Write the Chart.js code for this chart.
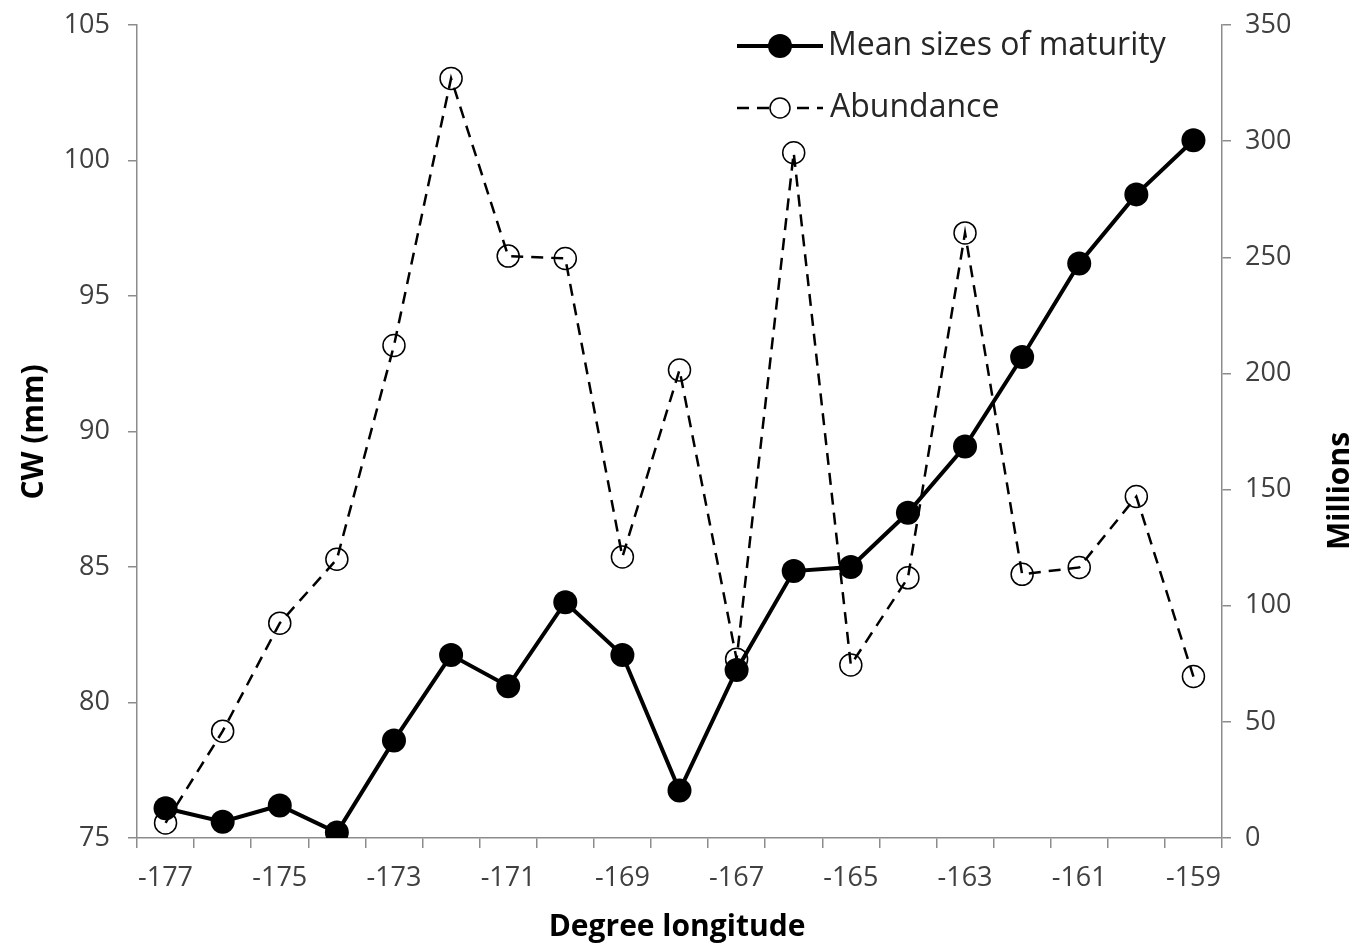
<!DOCTYPE html>
<html>
<head>
<meta charset="utf-8">
<script src="https://cdn.jsdelivr.net/npm/chart.js@4"></script>
<style>
    body { margin: 0; background: #fff; }
</style>
</head>
<body>
<canvas id="myChart" width="1362" height="950"></canvas>
<script>
const longitudes = [-177, -176, -175, -174, -173, -172, -171, -170, -169, -168, -167, -166, -165, -164, -163, -162, -161, -160, -159];
const meanSizes = [76.1, 75.6, 76.2, 75.2, 78.6, 81.75, 80.6, 83.7, 81.75, 76.75, 81.2, 84.85, 85.0, 87.0, 89.45, 92.75, 96.2, 98.75, 100.75];
const abundance = [6.5, 46, 92.5, 120, 212, 327, 250.5, 249.5, 121, 201.5, 77, 295, 74.5, 112, 260.5, 113.5, 116.5, 147, 69.5];

const FONT = "'Open Sans', sans-serif";
const tickColor = "#404040";
const axisColor = "#8c8c8c";

// titles and legend drawn by hand, like the original
const extras = {
    id: 'extras',
    afterDraw(chart) {
        const ctx = chart.ctx;
        ctx.save();
        ctx.fillStyle = "#000";
        ctx.font = "bold 30px " + FONT;
        ctx.textAlign = "center";
        ctx.textBaseline = "middle";
        ctx.fillText("Degree longitude", 677, 927);

        ctx.save();
        ctx.translate(34, 432);
        ctx.rotate(-Math.PI / 2);
        ctx.fillText("CW (mm)", 0, 0);
        ctx.restore();

        ctx.save();
        ctx.translate(1340, 491);
        ctx.rotate(-Math.PI / 2);
        ctx.fillText("Millions", 0, 0);
        ctx.restore();

        // legend
        ctx.font = "32px " + FONT;
        ctx.textAlign = "left";
        ctx.strokeStyle = "#000";
        ctx.lineWidth = 4;
        ctx.beginPath();
        ctx.moveTo(737, 46);
        ctx.lineTo(823, 46);
        ctx.stroke();
        ctx.fillStyle = "#000";
        ctx.beginPath();
        ctx.arc(780, 46, 12, 0, Math.PI * 2);
        ctx.fill();
        ctx.fillStyle = "#262626";
        ctx.fillText("Mean sizes of maturity", 828, 46);

        ctx.lineWidth = 2.5;
        ctx.setLineDash([12, 8]);
        ctx.beginPath();
        ctx.moveTo(737, 108);
        ctx.lineTo(823, 108);
        ctx.stroke();
        ctx.setLineDash([]);
        ctx.fillStyle = "#fff";
        ctx.lineWidth = 1.5;
        ctx.beginPath();
        ctx.arc(780, 108, 10, 0, Math.PI * 2);
        ctx.fill();
        ctx.stroke();
        ctx.fillStyle = "#262626";
        ctx.fillText("Abundance", 830, 108);
        ctx.restore();
    }
};

new Chart(document.getElementById("myChart"), {
    type: 'line',
    data: {
        labels: longitudes,
        datasets: [{
            label: "Mean sizes of maturity",
            data: meanSizes,
            yAxisID: 'y',
            borderColor: "#000",
            backgroundColor: "#000",
            borderWidth: 4,
            pointRadius: 12,
            pointHoverRadius: 12,
            pointBorderWidth: 0,
            tension: 0,
            order: 0,
        }, {
            label: "Abundance",
            data: abundance,
            yAxisID: 'y1',
            borderColor: "#000",
            backgroundColor: "rgba(0,0,0,0)",
            borderWidth: 2.5,
            borderDash: [12, 8],
            pointRadius: 11,
            pointHoverRadius: 11,
            pointBorderWidth: 1.5,
            pointBorderColor: "#000",
            pointBackgroundColor: "rgba(0,0,0,0)",
            tension: 0,
            order: 1,
        }]
    },
    options: {
        responsive: false,
        animation: false,
        layout: {
            padding: { top: 25, left: 0, right: 0, bottom: 0 },
        },
        plugins: {
            legend: { display: false },
            tooltip: { enabled: false },
        },
        scales: {
            x: {
                type: 'category',
                offset: true,
                grid: {
                    offset: true,
                    drawOnChartArea: false,
                    drawTicks: true,
                    tickLength: 10,
                    color: axisColor,
                    lineWidth: 1.5,
                },
                border: { color: axisColor, width: 1.5 },
                ticks: {
                    autoSkip: false,
                    maxRotation: 0,
                    padding: 14,
                    color: tickColor,
                    font: { family: FONT, size: 27 },
                    callback: function (val, i) {
                        return i % 2 === 0 ? this.getLabelForValue(val) : '';
                    }
                },
                afterFit: (s) => { s.height = 112; s.paddingLeft = 0; s.paddingRight = 0; },
            },
            y: {
                position: 'left',
                min: 75,
                max: 105,
                ticks: {
                    stepSize: 5,
                    padding: 18,
                    color: tickColor,
                    font: { family: FONT, size: 27 },
                },
                grid: {
                    drawOnChartArea: false,
                    tickLength: 9,
                    color: axisColor,
                    lineWidth: 1.5,
                },
                border: { color: axisColor, width: 1.5 },
                afterFit: (s) => { s.width = 137; s.paddingTop = 0; s.paddingBottom = 0; },
            },
            y1: {
                position: 'right',
                min: 0,
                max: 350,
                ticks: {
                    stepSize: 50,
                    padding: 14,
                    color: tickColor,
                    font: { family: FONT, size: 27 },
                },
                grid: {
                    drawOnChartArea: false,
                    tickLength: 9,
                    color: axisColor,
                    lineWidth: 1.5,
                },
                border: { color: axisColor, width: 1.5 },
                afterFit: (s) => { s.width = 140; s.paddingTop = 0; s.paddingBottom = 0; },
            }
        }
    },
    plugins: [extras]
});
</script>
</body>
</html>
